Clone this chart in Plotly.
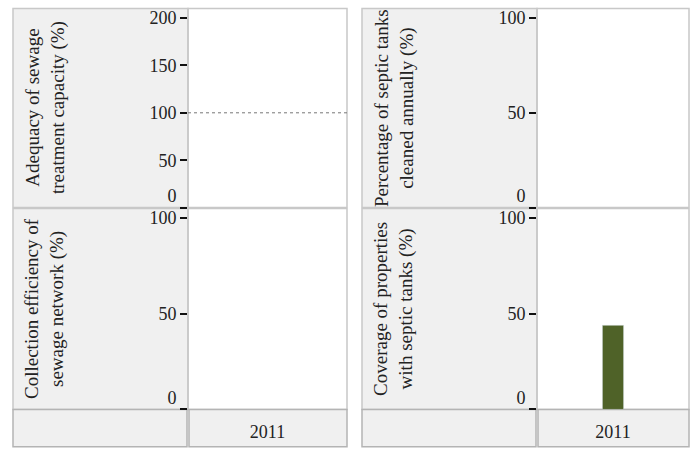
import plotly.graph_objects as go
from plotly.subplots import make_subplots

years = ["2011"]
adequacy = [None]
septic_cleaned = [None]
collection = [None]
septic_coverage = [44]

titles = [
    "Adequacy of sewage<br>treatment capacity (%)",
    "Percentage of septic tanks<br>cleaned annually (%)",
    "Collection efficiency of<br>sewage network (%)",
    "Coverage of properties<br>with septic tanks (%)",
]
series = [adequacy, septic_cleaned, collection, septic_coverage]
y_ranges = [[0, 210], [0, 105], [0, 105], [0, 105]]
y_ticks = [[0, 50, 100, 150, 200], [0, 50, 100], [0, 50, 100], [0, 50, 100]]

W, H = 695, 460
FONT = "Liberation Serif"
GRAY = "#f0f0f0"
EDGE = "#c8c8c8"


def px(x):
    return x / W


def py(y):
    return 1 - y / H


# pixel boxes of each panel: (label-left, plot-left, plot-right, top, bottom)
boxes = [
    (13, 188, 347, 9, 218),
    (362, 537, 689, 9, 218),
    (13, 188, 347, 219, 430),
    (362, 537, 689, 219, 430),
]

fig = make_subplots(rows=2, cols=2)
cells = [(1, 1), (1, 2), (2, 1), (2, 2)]

shapes = []
annotations = []
for i, ((r, c), vals, box) in enumerate(zip(cells, series, boxes)):
    lx, px0, px1, top, bot = box
    fig.add_trace(go.Bar(x=years, y=vals, marker_color="#4f6228",
                         showlegend=False), row=r, col=c)
    ax = "" if i == 0 else str(i + 1)
    # lift the "0" label off the panel edge with an empty second line
    labels = [str(v) if v else "0<br>\u00a0" for v in y_ticks[i]]
    fig.layout["xaxis" + ax].update(
        domain=[px(px0), px(px1)], type="category",
        showgrid=False, zeroline=False, showline=False,
        showticklabels=(r == 2), ticks="outside" if r == 2 else "",
        ticklen=6, tickcolor="rgba(0,0,0,0)",
        tickfont=dict(family=FONT, size=18, color="#222"),
    )
    fig.layout["yaxis" + ax].update(
        domain=[py(bot), py(top)], range=y_ranges[i],
        tickvals=y_ticks[i], ticktext=labels,
        showgrid=False, zeroline=False, showline=False,
        ticks="outside", ticklen=7, tickwidth=2, tickcolor="#111",
        tickfont=dict(family=FONT, size=18, color="#222"),
    )
    # gray label area and panel border
    shapes.append(dict(type="rect", xref="paper", yref="paper",
                       x0=px(lx), x1=px(px0), y0=py(bot), y1=py(top),
                       fillcolor=GRAY, line=dict(color=EDGE, width=1.5),
                       layer="below"))
    shapes.append(dict(type="rect", xref="paper", yref="paper",
                       x0=px(px0), x1=px(px1), y0=py(bot), y1=py(top),
                       fillcolor="rgba(0,0,0,0)", line=dict(color=EDGE, width=1.5),
                       layer="below"))
    annotations.append(dict(text=titles[i], xref="paper", yref="paper",
                            x=px(lx + 32), y=py((top + bot) / 2),
                            xanchor="center", yanchor="middle",
                            textangle=-90, showarrow=False,
                            font=dict(family=FONT, size=19, color="#222")))
    if r == 2:
        # bottom category strip
        shapes.append(dict(type="rect", xref="paper", yref="paper",
                           x0=px(lx), x1=px(px0 - 1), y0=-0.02, y1=py(430),
                           fillcolor=GRAY, line=dict(color="#b4b4b4", width=1.5),
                           layer="below"))
        shapes.append(dict(type="rect", xref="paper", yref="paper",
                           x0=px(px0 + 1), x1=px(px1), y0=-0.02, y1=py(430),
                           fillcolor=GRAY, line=dict(color="#b4b4b4", width=1.5),
                           layer="below"))

# reference line at 100% adequacy
shapes.append(dict(type="line", xref="x domain", yref="y", x0=0, x1=1,
                   y0=100, y1=100, line=dict(color="#777", width=1, dash="dot")))

fig.update_layout(
    width=W, height=H, margin=dict(l=0, r=0, t=0, b=0),
    paper_bgcolor="white", plot_bgcolor="white",
    bargap=0.86, shapes=shapes, annotations=annotations,
    font=dict(family=FONT),
)

# drop the default page margin and fit the figure to the window exactly
fit = (
    "document.documentElement.style.overflow='hidden';"
    "document.body.style.margin='0';"
    "document.body.style.overflow='hidden';"
    "var gd=document.getElementById('{plot_id}');"
    "Plotly.relayout(gd,{width:window.innerWidth,height:window.innerHeight});"
)
fig.write_html("out.html", config={"displayModeBar": False}, post_script=fit)
